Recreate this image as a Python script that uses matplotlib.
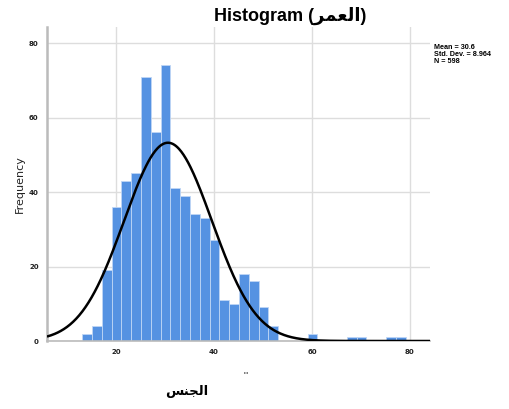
import numpy as np
import matplotlib
matplotlib.use("Agg")
import matplotlib.pyplot as plt
from matplotlib.transforms import Bbox

# ---- data ----
bin_start = 13.1
bin_width = 2.0
counts = [2, 4, 19, 36, 43, 45, 71, 56, 74, 41, 39, 34, 33, 27, 11, 10, 18, 16, 9, 4,
          0, 0, 0, 2, 0, 0, 0, 1, 1, 0, 0, 1, 1]
mean = 30.6
std = 8.964
n = 598
x_ticks = [20, 40, 60, 80]
y_ticks = [0, 20, 40, 60, 80]

# Arabic text in presentation (shaped, visual-order) forms
title_ar = "\uFEAE\uFEE4\uFECC\uFEDF\uFE8D"      # العمر
xlabel_ar = "\uFEAE\uFEE4\uFECC\uFEDF\uFE8D"     # العمر
bottom_ar = "\uFEB2\uFEE8\uFEA0\uFEDF\uFE8D"     # الجنس

fig = plt.figure(figsize=(5.09, 4.09), dpi=100)
ax = fig.add_axes([47/509, 1-341/409, (430-47)/509, (341-27)/409])

edges = bin_start + bin_width*np.arange(len(counts)+1)
ax.bar(edges[:-1], counts, width=bin_width, align='edge', color='#5592E2',
       edgecolor='#BFD6F5', linewidth=0.6, zorder=2)

xmin, xmax = 5.9, 84.1
xs = np.linspace(xmin, xmax, 500)
ys = n*bin_width/(std*np.sqrt(2*np.pi))*np.exp(-0.5*((xs-mean)/std)**2)
ax.plot(xs, ys, color='black', linewidth=1.8, zorder=3, solid_capstyle='butt')

ax.set_xlim(xmin, xmax)
ax.set_ylim(0, 84.3)
ax.set_xticks(x_ticks)
ax.set_yticks(y_ticks)
ax.tick_params(length=0, labelsize=5, pad=6)
for lab in ax.get_xticklabels() + ax.get_yticklabels():
    lab.set_fontweight('bold')
    lab.set_color('#222222')
ax.grid(True, color='#DDDDDD', linewidth=1.0, zorder=0)
ax.set_axisbelow(True)
for s in ['top', 'right']:
    ax.spines[s].set_visible(False)
ax.spines['left'].set_color('#BBBBBB')
ax.spines['left'].set_linewidth(1.8)
ax.spines['bottom'].set_color('#BBBBBB')
ax.spines['bottom'].set_linewidth(1.2)

ax.set_ylabel('Frequency', fontsize=8, labelpad=3, color='#222222')

fig.text(290/509, 1-16/409, 'Histogram (' + title_ar + ')', ha='center', va='center',
         fontsize=13, fontweight='bold', family=['Liberation Sans', 'DejaVu Sans'])

fig.text(434/509, 1-44/409, 'Mean = %.1f\nStd. Dev. = %.3f\nN = %d' % (mean, std, n),
         ha='left', va='top', fontsize=5.2, fontweight='bold', linespacing=1.0,
         family=['Liberation Sans'])

t = fig.text(240/509, 1-375/409, xlabel_ar, ha='center', va='center', fontsize=6,
             family=['DejaVu Sans'])
t.set_clip_box(Bbox.from_extents(0, 409-374, 509, 409))
t.set_clip_on(True)

fig.text(187/509, 1-392/409, bottom_ar, ha='center', va='center', fontsize=9.5,
         fontweight='bold', family=['DejaVu Sans'])

fig.savefig('out.png', dpi=100)
